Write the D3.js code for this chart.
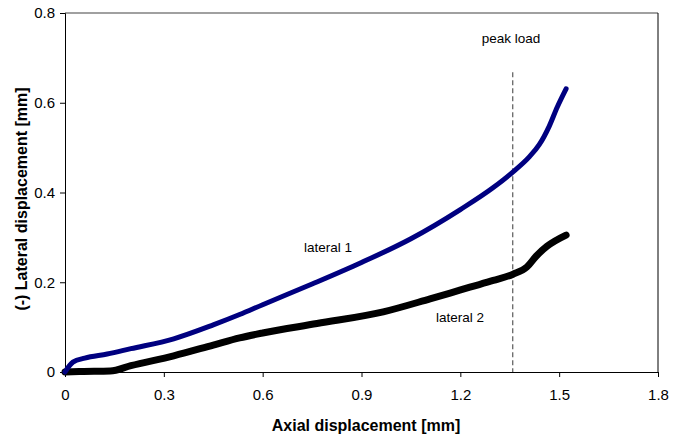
<!DOCTYPE html>
<html>
<head>
<meta charset="utf-8">
<script src="https://cdn.jsdelivr.net/npm/d3@7"></script>
<style>
  body { margin: 0; background: #fff; }
  svg { font-family: "Liberation Sans", Arial, sans-serif; }
</style>
</head>
<body>
<svg width="688" height="436"></svg>
<script>
// values (axial mm, lateral mm)
const lateral1X = [0, 0.024, 0.06, 0.128, 0.2, 0.33, 0.45, 0.53, 0.6, 0.75, 0.9, 1.05, 1.2, 1.3, 1.36, 1.41, 1.44, 1.47, 1.494, 1.521];
const lateral1Y = [0, 0.022, 0.031, 0.040, 0.052, 0.074, 0.105, 0.128, 0.150, 0.196, 0.244, 0.297, 0.362, 0.411, 0.446, 0.480, 0.507, 0.548, 0.590, 0.631];
const lateral2X = [0, 0.05, 0.137, 0.2, 0.33, 0.45, 0.53, 0.6, 0.765, 0.966, 1.108, 1.169, 1.229, 1.3, 1.36, 1.402, 1.43, 1.463, 1.521];
const lateral2Y = [0, 0.001, 0.002, 0.014, 0.036, 0.060, 0.076, 0.087, 0.108, 0.134, 0.163, 0.176, 0.189, 0.204, 0.218, 0.234, 0.258, 0.280, 0.305];
const xTicks = [0, 0.3, 0.6, 0.9, 1.2, 1.5, 1.8];
const yTicks = [0, 0.2, 0.4, 0.6, 0.8];
const peakLoad = 1.359;
const peakTop = 0.668;

const svg = d3.select("svg");
const x = d3.scaleLinear().domain([0, 1.8]).range([65, 658]);
const y = d3.scaleLinear().domain([0, 0.8]).range([372, 13]);

// frame (top grey, right black)
svg.append("line").attr("x1", x(0)).attr("x2", x(1.8)).attr("y1", y(0.8)).attr("y2", y(0.8))
  .attr("stroke", "#808080").attr("stroke-width", 1.5);
svg.append("line").attr("x1", x(1.8)).attr("x2", x(1.8)).attr("y1", y(0.8)).attr("y2", y(0))
  .attr("stroke", "#000").attr("stroke-width", 1);

const xAxis = svg.append("g").attr("transform", `translate(0,${y(0)})`)
  .call(d3.axisBottom(x).tickValues(xTicks).tickFormat(d3.format("")).tickSize(5).tickPadding(12));
const yAxis = svg.append("g").attr("transform", `translate(${x(0)},0)`)
  .call(d3.axisLeft(y).tickValues(yTicks).tickFormat(d3.format("")).tickSize(5).tickPadding(5));
[xAxis, yAxis].forEach(a => {
  a.select(".domain").attr("stroke", "#000");
  a.selectAll(".tick line").attr("stroke", "#000");
  a.selectAll("text").attr("font-size", 15).attr("fill", "#000")
    .attr("font-family", "Liberation Sans, Arial, sans-serif");
});

// peak load marker
svg.append("line").attr("x1", x(peakLoad)).attr("x2", x(peakLoad))
  .attr("y1", y(peakTop)).attr("y2", y(0))
  .attr("stroke", "#666").attr("stroke-width", 1.3).attr("stroke-dasharray", "5,3");

const line = d3.line().x(d => x(d[0])).y(d => y(d[1])).curve(d3.curveMonotoneX);

svg.append("path").datum(lateral2X.map((v, i) => [v, lateral2Y[i]]))
  .attr("d", line).attr("fill", "none").attr("stroke", "#000")
  .attr("stroke-width", 7).attr("stroke-linecap", "round").attr("stroke-linejoin", "round");

svg.append("path").datum(lateral1X.map((v, i) => [v, lateral1Y[i]]))
  .attr("d", line).attr("fill", "none").attr("stroke", "#000080")
  .attr("stroke-width", 5).attr("stroke-linecap", "round").attr("stroke-linejoin", "round");

const label = (t, px, py) => svg.append("text").attr("x", px).attr("y", py)
  .attr("text-anchor", "middle").attr("font-size", 13.5).attr("fill", "#000").text(t);
label("peak load", 511, 43);
label("lateral 1", 328, 252);
label("lateral 2", 460, 322);

svg.append("text").attr("x", 366).attr("y", 431).attr("text-anchor", "middle")
  .attr("font-size", 16).attr("font-weight", "bold").text("Axial displacement [mm]");
svg.append("text").attr("transform", "translate(27,199) rotate(-90)").attr("text-anchor", "middle")
  .attr("font-size", 16).attr("font-weight", "bold").text("(-) Lateral displacement [mm]");
</script>
</body>
</html>
